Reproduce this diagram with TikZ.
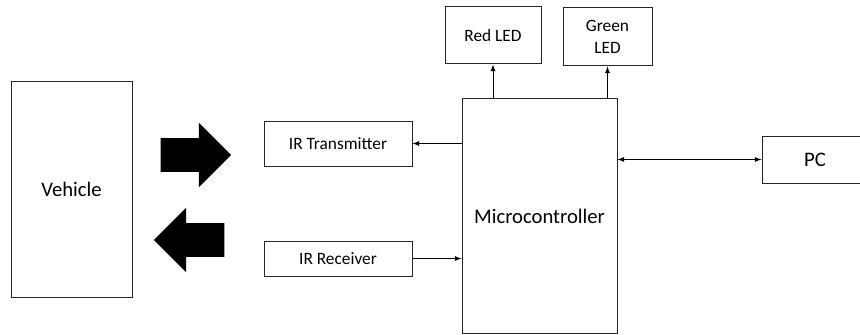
\documentclass[tikz,border=0pt]{standalone}
\usepackage{fontspec}
\setmainfont{Carlito}
\usetikzlibrary{shapes,arrows}
\tikzset{
     block/.style={draw=black!85, line width=0.75pt, fill=white, inner sep=0pt,
        font=\fontsize{13}{16}\selectfont, align=center},
     bigblock/.style={block, font=\fontsize{15.5}{18}\selectfont},
     link/.style   = {black, line width=0.75pt, ->, >=latex},
     dlink/.style  = {black, line width=0.75pt, <->, >=latex},
     fat/.style = {single arrow, fill=black, draw=none, inner xsep=0pt, inner ysep=12.4pt,
        minimum height=53pt, single arrow head extend=11.6pt,
        single arrow tip angle=90},
    }

\begin{document}
\begin{tikzpicture}[x=0.75pt,y=-0.75pt]
        \useasboundingbox (0,0) rectangle (860,335);
        \node [bigblock, minimum width=90.75pt, minimum height=161.25pt] (vehicle) at (71.5,189.5) {Vehicle};
        \node [block, minimum width=111pt, minimum height=33.75pt] (tx) at (338,143.5) {IR Transmitter};
        \node [block, minimum width=111pt, minimum height=26.25pt] (rx) at (338,258.5) {IR Receiver};
        \node [bigblock, minimum width=116.25pt, minimum height=175.5pt] (micro) at (539.5,216) {Microcontroller};
        \node [block, minimum width=72pt, minimum height=42.75pt] (red) at (493,35.5) {Red LED};
        \node [block, minimum width=66.75pt, minimum height=43.5pt] (green) at (607.5,37) {Green\\LED};
        \node [bigblock, minimum width=79.5pt, minimum height=35.25pt] (pc) at (815,159.5) {PC};

        \node [fat] (out) at (187.5,155) {};
        \node [fat, shape border rotate=180] (in) at (197.5,240) {};

        \draw[link] (tx.east -| micro.west) -- (tx.east);
        \draw[link] (rx.east) -- (rx.east -| micro.west);
        \draw[link] (red.south |- micro.north) -- (red.south);
        \draw[link] (green.south |- micro.north) -- (green.south);
        \draw[dlink] (pc.west -| micro.east) -- (pc.west);
    \end{tikzpicture}
\end{document}
